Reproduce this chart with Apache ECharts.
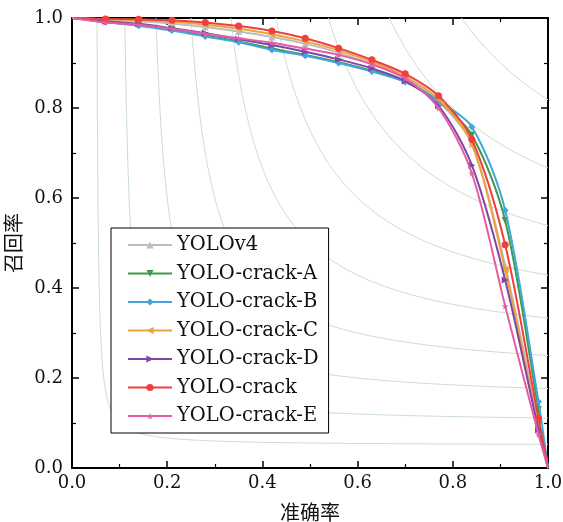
<!DOCTYPE html>
<html>
<head>
<meta charset="utf-8">
<script src="https://cdn.jsdelivr.net/npm/echarts@6/dist/echarts.min.js"></script>
<style>
  html, body { margin: 0; padding: 0; background: #fff; }
  #chart { width: 563px; height: 522px; }
</style>
</head>
<body>
<div id="chart"></div>
<script>
    // 准确率采样点
    var precision = [0, 0.07, 0.14, 0.21, 0.28, 0.35, 0.42, 0.49, 0.56, 0.63, 0.70, 0.77, 0.84, 0.91, 0.98, 1.0];

    // 各模型召回率
    var recallV4 = [1.0, 0.996, 0.993, 0.988, 0.980, 0.970, 0.958, 0.943, 0.923, 0.898, 0.866, 0.815, 0.720, 0.450, 0.100, 0];
    var recallA = [1.0, 0.991, 0.984, 0.974, 0.961, 0.948, 0.932, 0.918, 0.902, 0.883, 0.858, 0.815, 0.740, 0.550, 0.130, 0];
    var recallB = [1.0, 0.991, 0.983, 0.972, 0.959, 0.946, 0.929, 0.916, 0.900, 0.881, 0.858, 0.815, 0.758, 0.573, 0.147, 0];
    var recallC = [1.0, 0.997, 0.995, 0.992, 0.985, 0.976, 0.964, 0.948, 0.928, 0.903, 0.870, 0.820, 0.720, 0.440, 0.090, 0];
    var recallD = [1.0, 0.993, 0.987, 0.977, 0.966, 0.953, 0.940, 0.925, 0.908, 0.888, 0.860, 0.805, 0.673, 0.418, 0.085, 0];
    var recallCrack = [1.0, 0.998, 0.997, 0.995, 0.990, 0.982, 0.971, 0.955, 0.933, 0.907, 0.876, 0.827, 0.730, 0.496, 0.110, 0];
    var recallE = [1.0, 0.990, 0.985, 0.976, 0.965, 0.955, 0.945, 0.932, 0.918, 0.897, 0.866, 0.800, 0.655, 0.360, 0.075, 0];

    var names = ['YOLOv4', 'YOLO-crack-A', 'YOLO-crack-B', 'YOLO-crack-C', 'YOLO-crack-D', 'YOLO-crack', 'YOLO-crack-E'];
    var colors = ['#bdbdbd', '#3c9b48', '#41a6dc', '#eaa43c', '#7f46a6', '#ef3f3f', '#e45ca8'];

    // F1 等值线
    var f1Levels = [0.1, 0.2, 0.3, 0.4, 0.5, 0.6, 0.7, 0.8, 0.9];

    var starPath = 'path://M50,0 L61,35 L98,35 L68,57 L79,91 L50,70 L21,91 L32,57 L2,35 L39,35 Z';
    var symbols = [
        { s: 'triangle', r: 0 },
        { s: 'triangle', r: 180 },
        { s: 'diamond', r: 0 },
        { s: 'triangle', r: 90 },
        { s: 'triangle', r: -90 },
        { s: 'circle', r: 0 },
        { s: starPath, r: 0 }
    ];
    var recalls = [recallV4, recallA, recallB, recallC, recallD, recallCrack, recallE];

    var serif = "'DejaVu Serif', serif";
    var cjk = "'Noto Sans CJK SC', sans-serif";
    var series = [];

    // 等值线
    f1Levels.forEach(function (f) {
        var p0 = f / (2 - f);
        var pts = [];
        for (var k = 0; k <= 300; k++) {
            var t = k / 300;
            var p = p0 + (1 - p0) * t * t;
            var r = f * p / (2 * p - f);
            pts.push([p, Math.min(r, 1)]);
        }
        series.push({
            type: 'line',
            data: pts,
            showSymbol: false,
            silent: true,
            z: 1,
            lineStyle: { color: '#c9dccf', width: 1 }
        });
    });

    for (var i = 0; i < names.length; i++) {
        var d = [];
        for (var j = 0; j < precision.length; j++) {
            var item = { value: [precision[j], recalls[i][j]] };
            // 首尾端点不画标记
            if (j === 0 || j === precision.length - 1) item.symbol = 'none';
            d.push(item);
        }
        series.push({
            name: names[i],
            type: 'line',
            data: d,
            smooth: 0.3,
            symbol: symbols[i].s,
            symbolRotate: symbols[i].r,
            symbolSize: 7,
            showAllSymbol: true,
            z: 3 + i,
            itemStyle: { color: colors[i] },
            lineStyle: { color: colors[i], width: 2 }
        });
    }

    var axisCommon = {
        type: 'value',
        min: 0,
        max: 1,
        interval: 0.2,
        axisLine: { show: true, onZero: false, lineStyle: { color: '#000', width: 2 } },
        axisTick: { show: true, inside: true, length: 7, lineStyle: { color: '#000', width: 1.5 } },
        minorTick: { show: true, splitNumber: 2, length: 4, lineStyle: { color: '#000', width: 1.2 } },
        splitLine: { show: false },
        minorSplitLine: { show: false }
    };

    var chart = echarts.init(document.getElementById('chart'));
    var option = {
        animation: false,
        grid: { left: 72, right: 15, top: 18, bottom: 54, containLabel: false, outerBoundsMode: 'none' },
        legend: {
            data: names,
            orient: 'vertical',
            left: 111,
            top: 228,
            padding: [7, 10, 7, 16],
            backgroundColor: '#fff',
            borderColor: '#000',
            borderWidth: 1,
            borderRadius: 0,
            itemWidth: 44,
            itemHeight: 9,
            itemGap: 8.5,
            textStyle: { fontFamily: serif, fontSize: 19.5, lineHeight: 20, color: '#111' }
        },
        xAxis: [
            Object.assign({}, axisCommon, {
                position: 'bottom',
                name: '准确率',
                nameLocation: 'middle',
                nameGap: 34,
                nameTextStyle: { fontFamily: cjk, fontSize: 20, color: '#111' },
                axisLabel: { fontFamily: serif, fontSize: 18, color: '#111', margin: 6, formatter: function (v) { return v.toFixed(1); } }
            }),
            Object.assign({}, axisCommon, { position: 'top', axisLabel: { show: false } })
        ],
        yAxis: [
            Object.assign({}, axisCommon, {
                position: 'left',
                name: '召回率',
                nameLocation: 'middle',
                nameGap: 45,
                nameTextStyle: { fontFamily: cjk, fontSize: 20, color: '#111' },
                axisLabel: { fontFamily: serif, fontSize: 18, color: '#111', margin: 9, formatter: function (v) { return v.toFixed(1); } }
            }),
            Object.assign({}, axisCommon, { position: 'right', axisLabel: { show: false } })
        ],
        series: series
    };
    chart.setOption(option);
</script>
</body>
</html>
